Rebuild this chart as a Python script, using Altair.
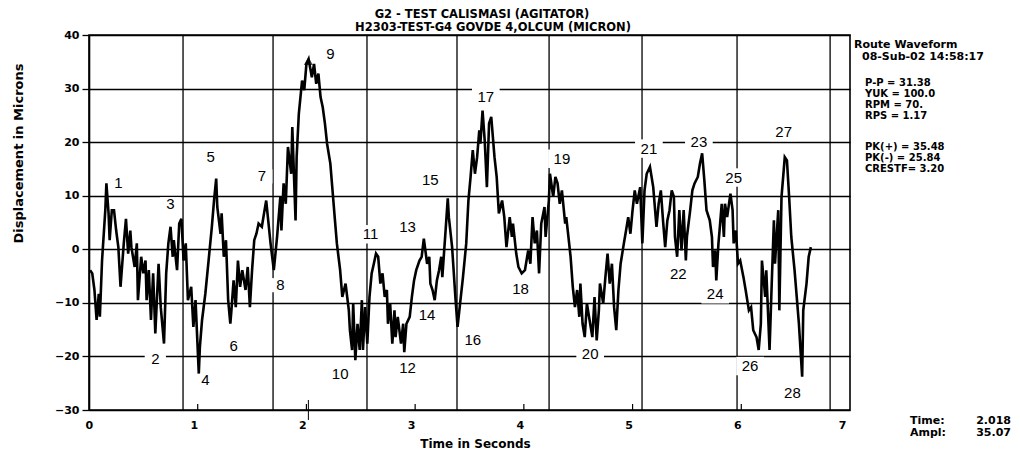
import altair as alt
import pandas as pd

# ---------------- data ----------------
time_s = [
    0.01, 0.03, 0.05, 0.07, 0.09, 0.10, 0.12, 0.15, 0.16, 0.18,
    0.19, 0.21, 0.23, 0.25, 0.27, 0.29, 0.32, 0.34, 0.36, 0.38,
    0.39, 0.42, 0.44, 0.45, 0.48, 0.50, 0.52, 0.53, 0.55, 0.57,
    0.59, 0.61, 0.64, 0.66, 0.69, 0.71, 0.73, 0.75, 0.77, 0.78,
    0.81, 0.83, 0.85, 0.87, 0.89, 0.91, 0.94, 0.96, 0.98, 1.01,
    1.02, 1.04, 1.07, 1.10, 1.13, 1.15, 1.17, 1.18, 1.21, 1.22,
    1.24, 1.26, 1.28, 1.30, 1.31, 1.33, 1.35, 1.37, 1.39, 1.41,
    1.44, 1.46, 1.48, 1.50, 1.52, 1.54, 1.56, 1.59, 1.61, 1.63,
    1.67, 1.70, 1.73, 1.76, 1.77, 1.79, 1.81, 1.83, 1.86, 1.87,
    1.90, 1.91, 1.93, 1.96, 1.98, 2.00, 2.02, 2.05, 2.07, 2.09,
    2.11, 2.13, 2.15, 2.17, 2.19, 2.22, 2.24, 2.26, 2.28, 2.31,
    2.33, 2.36, 2.39, 2.40, 2.42, 2.43, 2.45, 2.47, 2.49, 2.51,
    2.52, 2.54, 2.56, 2.58, 2.60, 2.62, 2.64, 2.66, 2.68, 2.70,
    2.72, 2.74, 2.75, 2.77, 2.79, 2.81, 2.82, 2.84, 2.87, 2.89,
    2.90, 2.92, 2.95, 2.97, 2.99, 3.01, 3.04, 3.06, 3.08, 3.11,
    3.13, 3.14, 3.16, 3.18, 3.20, 3.22, 3.24, 3.25, 3.28, 3.30,
    3.31, 3.34, 3.35, 3.37, 3.39,
    3.44, 3.47, 3.49, 3.51, 3.53, 3.55, 3.57, 3.59, 3.60, 3.62,
    3.64, 3.66, 3.68, 3.70, 3.73, 3.75, 3.77, 3.80, 3.82, 3.84,
    3.87, 3.89, 3.90, 3.93, 3.95, 3.98, 4.01, 4.04, 4.06, 4.08,
    4.10, 4.12, 4.14, 4.16, 4.19, 4.20, 4.23, 4.24, 4.27, 4.29,
    4.31, 4.33, 4.35, 4.38, 4.39, 4.41, 4.43, 4.45, 4.47, 4.49,
    4.51, 4.52, 4.54, 4.56, 4.58, 4.61, 4.63, 4.65, 4.67, 4.69,
    4.70, 4.73, 4.75, 4.77, 4.79, 4.81, 4.83, 4.85, 4.87, 4.89,
    4.92, 4.94, 4.96, 4.98, 5.00, 5.02, 5.04, 5.07, 5.09, 5.11,
    5.13, 5.16,
    5.19, 5.22, 5.24, 5.26, 5.28, 5.30, 5.32, 5.34, 5.36, 5.38,
    5.39, 5.41, 5.43, 5.45, 5.47, 5.49, 5.50, 5.53, 5.55, 5.57,
    5.60, 5.62, 5.64, 5.66, 5.68, 5.71, 5.73, 5.74, 5.76, 5.77,
    5.79, 5.80, 5.82, 5.84, 5.85, 5.87, 5.90, 5.92, 5.93, 5.95,
    5.97, 5.99, 6.02, 6.04, 6.07, 6.09, 6.11, 6.14, 6.16, 6.18,
    6.19, 6.22, 6.23, 6.26, 6.28, 6.30, 6.31, 6.34, 6.35, 6.37,
    6.39, 6.40, 6.42, 6.44, 6.46, 6.49, 6.51, 6.53, 6.56, 6.57,
    6.60, 6.62, 6.64,
]

disp_um = [
    -3.9, -4.5, -7.6, -13.2, -8.3, -12.6, -2.1, 7.3, 12.3, 6.7,
    1.7, 7.3, 7.3, 3.5, 0.4, -7.0, 1.1, 5.7, -0.8, 3.5,
    0.4, -3.3, 1.1, -9.5, -1.4, -4.5, -2.1, -9.5, -3.9, -13.2,
    -4.5, -15.7, -2.7, -10.8, -17.6, -4.5, 1.1, 4.2, -1.4, 1.7,
    -3.9, 4.8, 5.7, -2.1, 1.1, -9.5, -7.0, -14.5, -9.5, -23.2,
    -18.2, -13.2, -8.3, -2.1, 4.2, 9.1, 13.2, 7.9, 2.9, 6.7,
    -1.4, 1.7, -9.5, -13.9, -11.4, -5.8, -10.8, -2.1, -7.0, -3.9,
    -7.6, -3.3, -10.8, -3.9, 1.7, 2.9, 4.8, 4.2, 6.7, 9.1,
    1.1, -3.9, 2.3, 9.8, 3.5, 12.3, 8.5, 19.1, 14.1, 22.8,
    5.4, 17.2, 25.3, 31.5, 29.7, 34.6, 35.5, 32.1, 34.6, 30.9,
    32.8, 28.4, 26.5, 23.5, 19.7, 16.0, 11.0, 6.0, 1.1, -3.9,
    -8.9, -6.4, -11.4, -15.1, -18.8, -10.1, -20.7, -13.9, -18.8, -9.5,
    -18.8, -10.8, -17.6, -8.9, -4.5, -2.7, -0.8, -1.4, -6.4, -4.5,
    -8.9, -7.6, -13.9, -10.1, -17.6, -11.4, -16.4, -12.6, -17.6, -13.9,
    -19.2, -13.9, -12.6, -8.9, -5.8, -3.9, -2.1, -1.4, 2.0, -2.7,
    -1.4, -6.4, -7.6, -9.5, -5.8, -3.9, -1.4, -5.2, 3.5, 9.5,
    6.0, 0.4, -2.7, -8.9, -14.5,
    -5.2, 1.1, 9.1, 13.5, 18.5, 14.1, 17.2, 22.2, 19.7, 25.9,
    20.3, 11.6, 23.5, 24.7, 17.2, 13.5, 6.7, 9.1, 6.0, 0.4,
    6.0, 2.3, 4.8, -0.8, -3.3, -4.5, -3.9, -0.2, -2.7, 6.0,
    1.1, 3.5, -4.5, 4.8, 7.9, 2.3, 9.1, 14.1, 9.8, 13.5,
    12.3, 8.5, 11.0, 4.8, 6.0, 2.3, -1.4, -7.0, -10.8, -7.6,
    -12.6, -6.4, -13.9, -16.4, -10.1, -13.9, -16.4, -8.9, -17.0, -11.4,
    -6.4, -10.1, -5.2, -0.8, -6.4, -2.7, -10.8, -15.1, -7.6, -2.7,
    1.1, 3.5, 6.0, 2.9, 7.3, 11.0, 8.5, 11.6, 1.1, 11.0,
    14.1, 15.4,
    11.6, 4.2, 8.5, 11.0, 5.4, 0.4, 5.4, 7.3, 11.0, 9.8,
    2.3, -1.4, 7.3, -0.2, 7.3, -2.1, 2.3, 7.3, 11.0, 12.3,
    13.5, 16.0, 17.9, 12.9, 7.3, 5.4, 2.3, -3.3, -0.2, -5.8,
    1.1, 3.5, 8.5, 2.3, 8.5, 6.0, 10.4, 7.3, 1.1, 3.5,
    -2.7, -2.1, -5.2, -7.6, -11.4, -10.8, -15.1, -16.4, -18.8, -13.9,
    -2.1, -8.9, -3.9, -18.8, -6.4, 5.4, -2.7, 7.3, -11.4, 9.8,
    14.7, 17.2, 16.6, 9.8, 2.3, -3.9, -8.9, -13.9, -23.8, -11.4,
    -6.4, -1.4, 0.4,
]

peak_ids = [str(i) for i in range(1, 29)]
peak_t = [0.27, 0.61, 0.75, 1.07, 1.12, 1.33, 1.59, 1.76, 2.22, 2.31,
          2.59, 2.93, 2.93, 3.11, 3.14, 3.53, 3.65, 3.97, 4.35, 4.61,
          5.15, 5.42, 5.61, 5.76, 5.93, 6.08, 6.39, 6.47]
peak_v = [12.3, -20.4, 8.4, -24.4, 17.2, -18.1, 13.6, -6.7, 36.4, -23.3,
          2.8, -22.1, 4.2, -12.3, 12.9, -16.9, 28.5, -7.5, 16.9, -19.5,
          18.8, -4.7, 20.0, -8.4, 13.4, -21.8, 21.9, -26.8]

rev_t = [0.865, 1.693, 2.557, 3.385, 4.232, 5.087, 5.961, 6.817]
sec_ticks = [1, 2, 3, 4, 5, 6]
x_labels = [0, 1, 2, 3, 4, 5, 6, 7]
y_labels = [-30, -20, -10, 0, 10, 20, 30, 40]

cursor_t = [2.018]
cursor_v = [35.07]

title_lines = ["G2   - TEST CALISMASI (AGITATOR)",
               "H2303-TEST-G4     GOVDE 4,OLCUM (MICRON)"]
info_lines = ["Route Waveform", "08-Sub-02  14:58:17",
              "P-P  =  31.38", "YUK  = 100.0", "RPM  =     70.", "RPS  =    1.17",
              "PK(+) = 35.48", "PK(-) = 25.84", "CRESTF= 3.20"]
cursor_names = ["Time:", "Ampl:"]
cursor_vals = ["2.018", "35.07"]

# ---------------- chart ----------------
W, H = 761, 375
FONT = "DejaVu Sans"

xs = alt.Scale(domain=[0, 7], nice=False, zero=False)
ys = alt.Scale(domain=[-30, 40], nice=False, zero=False)

x_axis = alt.Axis(values=x_labels, format="d", grid=False, ticks=False, domain=False,
                  labelFont=FONT, labelFontSize=11, labelFontWeight="bold",
                  labelColor="black", labelPadding=9, labelOffset=-4,
                  title="Time in Seconds", titleFont=FONT, titleFontSize=12,
                  titleFontWeight="bold", titleColor="black",
                  titleX=386, titleY=33, titleBaseline="middle")
y_axis = alt.Axis(values=y_labels, grid=True, gridColor="black", gridWidth=1.3,
                  gridOpacity=1, domainColor="black", domainWidth=1.6,
                  tickColor="black", tickSize=7, tickWidth=1.3,
                  labelFont=FONT, labelFontSize=11, labelFontWeight="bold",
                  labelColor="black", labelPadding=3,
                  title="Displacement in Microns", titleFont=FONT, titleFontSize=13,
                  titleFontWeight="bold", titleColor="black", titleAngle=270,
                  titleX=-71, titleY=118, titleAlign="center", titleBaseline="middle")

X = lambda f: alt.X(f"{f}:Q", scale=xs, axis=x_axis)
Y = lambda f: alt.Y(f"{f}:Q", scale=ys, axis=y_axis)

wave_df = pd.DataFrame({"t": time_s, "v": disp_um, "i": range(len(time_s))})
peaks_df = pd.DataFrame({"label": peak_ids, "t": peak_t, "v": peak_v})
peaks_df["bg"] = [200 if len(s) == 1 else 340 for s in peak_ids]
rev_df = pd.DataFrame({"t": rev_t})
sec_df = pd.DataFrame({"t": sec_ticks})
cur_df = pd.DataFrame({"t": cursor_t, "v": cursor_v})

rev_rules = alt.Chart(rev_df).mark_rule(color="black", strokeWidth=1.3).encode(x=X("t"))

sec_marks = alt.Chart(sec_df).mark_rule(color="black", strokeWidth=1.2).encode(
    x=X("t"), y=alt.value(H), y2=alt.value(H - 6))

label_bg = alt.Chart(peaks_df).mark_point(
    shape="M-1.5,-1H1.5V1H-1.5Z", filled=True, fill="white", opacity=1, strokeWidth=0
).encode(x=X("t"), y=Y("v"), size=alt.Size("bg:Q", scale=None, legend=None))

wave = alt.Chart(wave_df).mark_line(color="black", strokeWidth=2.6, strokeJoin="miter").encode(
    x=X("t"), y=Y("v"), order="i:Q")

peak_text = alt.Chart(peaks_df).mark_text(
    font="Liberation Sans", fontSize=15, color="black", baseline="middle", align="center"
).encode(x=X("t"), y=Y("v"), text="label:N")

cursor_mark = alt.Chart(cur_df).mark_point(
    shape="triangle-up", filled=False, color="black", size=50, strokeWidth=1.2
).encode(x=X("t"), y=Y("v"))
cursor_rule = alt.Chart(cur_df).mark_rule(color="black", strokeWidth=1).encode(
    x=X("t"), y=alt.value(H - 10), y2=alt.value(H + 10))


def txt(s, x, y, size=10, align="left", weight="bold", font=FONT):
    return alt.Chart(pd.DataFrame({"s": [s]})).mark_text(
        align=align, baseline="middle", font=font, fontSize=size,
        fontWeight=weight, color="black"
    ).encode(x=alt.value(x), y=alt.value(y), text="s:N")


ann = [
    txt(title_lines[0], 393, -20, size=11.5, align="center"),
    txt(title_lines[1], 404, -7, size=11.5, align="center"),
    txt(info_lines[0], 765, 10, size=11),
    txt(info_lines[1], 773, 22, size=11),
    txt(info_lines[2], 776, 48),
    txt(info_lines[3], 776, 59),
    txt(info_lines[4], 776, 70),
    txt(info_lines[5], 776, 81),
    txt(info_lines[6], 776, 112),
    txt(info_lines[7], 776, 123),
    txt(info_lines[8], 776, 134),
    txt(cursor_names[0], 821, 386, size=11),
    txt(cursor_names[1], 821, 398, size=11),
    txt(cursor_vals[0], 922, 386, size=11, align="right"),
    txt(cursor_vals[1], 922, 398, size=11, align="right"),
]

chart = alt.layer(
    rev_rules, sec_marks, label_bg, wave, peak_text, cursor_mark, cursor_rule, *ann
).properties(
    width=W, height=H,
    padding={"left": 81, "top": 27, "right": 162, "bottom": 40},
    autosize=alt.AutoSizeParams(type="none"),
    background="white",
).configure_view(stroke="black", strokeWidth=1.6)

chart.save("out.html", embed_options={"renderer": "svg", "actions": False})
